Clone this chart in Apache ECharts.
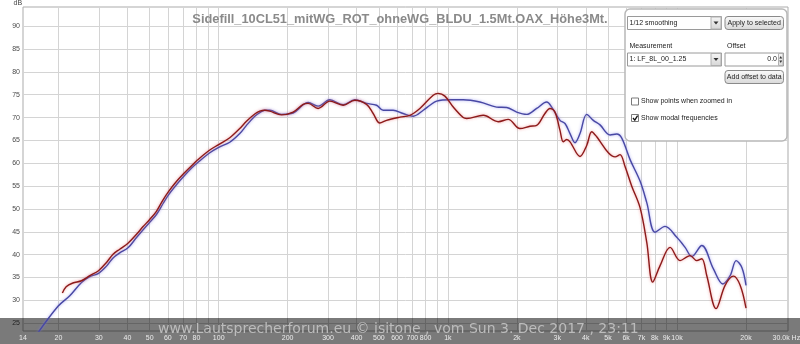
<!DOCTYPE html>
<html><head><meta charset="utf-8">
<script src="https://cdn.jsdelivr.net/npm/echarts@6/dist/echarts.min.js"></script>
<style>html,body{margin:0;padding:0;background:#fff}#c{width:800px;height:344px}</style>
</head><body><div id="c"></div>
<script>
const titleText = 'Sidefill_10CL51_mitWG_ROT_ohneWG_BLDU_1.5Mt.OAX_Höhe3Mt.';
const watermarkText = 'www.Lautsprecherforum.eu © isitone , vom Sun 3. Dec 2017 , 23:11';
const yUnit = 'dB';

const xGridValues = [20,30,40,50,60,70,80,90,100,200,300,400,500,600,700,800,900,1000,2000,3000,4000,5000,6000,7000,8000,9000,10000,20000];
const xLabelValues = [14,20,30,40,50,60,70,80,100,200,300,400,500,600,700,800,1000,2000,3000,4000,5000,6000,7000,8000,9000,10000,20000,30000];
const yTickValues = [25,30,35,40,45,50,55,60,65,70,75,80,85,90];

const redFreq = [20.8,21.6,23.1,25.2,27.4,29.9,32.4,34.6,37.0,40.2,43.7,46.7,50.0,53.5,57.2,60.4,65.4,70.6,76.0,80.8,90.8,100,111.8,123.6,132.2,143.7,151.1,158.9,167.1,188,211.3,233.6,245.6,271.6,305.5,349.3,392.7,441.8,472.2,505,540,617.7,682.8,755,863,907.6,970.8,1056,1167,1208,1427,1659,1835,2064,2282,2441,2653,2790,2934,3086,3189,3301,3413,3773,4036,4245,4463,4614,5016,5365,5641,5933,6346,6898,7379,7837,8435,9328,10313,11404,12198,12827,13488,14812,16212,17626,18858,20000];
const redDb = [31.6,33.0,33.8,34.3,35.4,36.5,38.3,40.1,41.2,42.5,44.4,46.1,47.7,49.5,52.0,53.8,56.0,57.8,59.4,60.7,62.8,64.1,65.6,67.6,69.2,70.8,71.4,71.6,71.4,70.6,71.2,72.9,73.1,72.0,73.6,72.7,73.8,72.9,70.9,68.8,69.4,70.1,70.5,72.0,74.9,75.3,74.7,72.3,70.0,69.8,70.5,69.1,69.6,67.6,68.1,68.3,70.9,72.0,71.2,67.2,64.7,65.2,64.7,61.5,63.9,66.9,65.8,64.8,62.3,61.4,61.9,59.3,55.0,50.3,42.7,34.0,37.6,41.6,38.7,39.8,38.7,39.1,35.4,28.2,33.3,35.3,33.3,28.3];

const blueFreq = [16.0,19.9,22.4,25.2,27.4,29.9,32.4,34.6,37.0,40.2,43.7,46.7,50.0,53.5,57.2,60.4,65.4,70.6,76.0,80.8,90.8,100,111.8,123.6,132.2,143.7,151.1,158.9,167.1,188,211.3,233.6,245.6,271.6,305.5,349.3,392.7,441.8,488.6,522,577,638,706,781,835,893,1021,1167,1380,1633,1806,1997,2208,2441,2700,2839,3086,3245,3413,3588,3773,4036,4312,4614,5103,5457,5740,6240,6898,7379,8022,8870,9975,10847,11600,12827,14416,15847,17055,18117,19180,20000];
const blueDb = [22.4,28.7,31.0,33.9,35.2,35.9,37.5,39.3,40.4,41.5,43.7,45.4,47.1,48.8,51.2,53.1,55.3,57.2,58.9,60.1,62.2,63.5,64.6,66.5,68.3,70.3,71.1,71.6,71.6,70.7,71.0,72.8,73.3,72.5,73.9,72.8,73.9,73.1,72.7,71.6,71.6,70.9,70.3,71.6,72.7,73.6,73.9,73.9,73.4,72.3,72.2,71.2,70.7,72.0,73.4,72.3,69.4,68.7,66.5,64.5,66.5,70.7,69.4,68.4,66.2,66.4,65.5,60.8,56.1,51.4,44.9,46.2,43.8,41.6,39.6,42.0,36.9,33.6,35.4,38.7,37.2,33.3];

const FONT = 'Liberation Sans, Arial, sans-serif';
function fmtFreq(v) {
  if (v >= 29999) return '30.0k Hz';
  if (v >= 1000) return (v / 1000) + 'k';
  return String(v);
}
function grad(a, b) {
  return new echarts.graphic.LinearGradient(0, 0, 0, 1, [{offset: 0, color: a}, {offset: 1, color: b}]);
}
function txt(x, y, s, extra) {
  return Object.assign({type: 'text', x: x, y: y, z: 60,
    style: Object.assign({text: s, fontSize: 7, fontFamily: FONT, fill: '#222', textVerticalAlign: 'middle'}, extra || {})});
}
function box(x, y, w, h, r, fill, stroke) {
  return {type: 'rect', z: 55, shape: {x: x, y: y, width: w, height: h, r: r}, style: {fill: fill, stroke: stroke, lineWidth: 1}};
}
function tri(cx, cy, up) {
  const d = up ? -1 : 1;
  return {type: 'polygon', z: 58, shape: {points: [[cx - 2.5, cy - 1.5 * d], [cx + 2.5, cy - 1.5 * d], [cx, cy + 1.5 * d]]}, style: {fill: '#333'}};
}

const panel = [
  {type: 'rect', z: 50, shape: {x: 625, y: 9, width: 162, height: 132, r: 5}, style: {fill: '#fff', stroke: '#b8b8b8', lineWidth: 1.5}},
  box(627.5, 16.5, 94, 13, 0, '#fff', '#9a9a9a'),
  box(711, 17, 10, 12, 0, grad('#f6f6f6', '#d6d6d6'), '#b0b0b0'),
  tri(716, 23, false),
  txt(629.5, 23, '1/12 smoothing'),
  box(725, 16.5, 58.5, 13, 3, grad('#fbfbfb', '#d8d8d8'), '#8a8a8a'),
  txt(754.2, 23, 'Apply to selected', {textAlign: 'center'}),
  txt(629.5, 46.5, 'Measurement'),
  txt(727, 46.5, 'Offset'),
  box(627.5, 53, 94, 13, 0, '#fff', '#9a9a9a'),
  box(711, 53.5, 10, 12, 0, grad('#f6f6f6', '#d6d6d6'), '#b0b0b0'),
  tri(716, 59.5, false),
  txt(629.5, 59.5, '1: LF_8L_00_1.25'),
  box(725, 53, 58.5, 13, 0, '#fff', '#9a9a9a'),
  txt(777, 59.5, '0.0', {textAlign: 'right'}),
  box(778.5, 53.5, 4.5, 12, 0, grad('#f6f6f6', '#dcdcdc'), '#b0b0b0'),
  {type: 'polygon', z: 58, shape: {points: [[779.3, 58.5], [782.2, 58.5], [780.75, 56]]}, style: {fill: '#333'}},
  {type: 'polygon', z: 58, shape: {points: [[779.3, 60.5], [782.2, 60.5], [780.75, 63]]}, style: {fill: '#333'}},
  box(725, 70.5, 58.5, 13, 3, grad('#fbfbfb', '#d8d8d8'), '#8a8a8a'),
  txt(754.2, 77, 'Add offset to data', {textAlign: 'center'}),
  box(631.5, 98, 7, 7, 0, '#fff', '#7a7a7a'),
  txt(641, 101.5, 'Show points when zoomed in'),
  box(631.5, 114.5, 7, 7, 0, '#fff', '#7a7a7a'),
  {type: 'polyline', z: 58, shape: {points: [[633, 118], [634.8, 120.2], [637.6, 115.6]]}, style: {stroke: '#111', lineWidth: 1.3, fill: null}},
  txt(641, 118, 'Show modal frequencies')
];

const chart = echarts.init(document.getElementById('c'), null, {renderer: 'canvas'});
chart.setOption({
  animation: false,
  backgroundColor: '#fff',
  title: {text: titleText, left: 'center', top: 8, textStyle: {fontSize: 12.8, fontWeight: 'bold', color: '#8a8a8a', fontFamily: FONT}},
  grid: {left: 23, right: 12, top: 7, bottom: 13, show: true, containLabel: false, outerBoundsMode: 'none',
         borderColor: '#ababab', borderWidth: 1, backgroundColor: 'transparent'},
  xAxis: [
    {type: 'log', logBase: 10, min: 14, max: 30500, z: 0, position: 'bottom',
     axisLine: {show: false}, axisTick: {show: false, customValues: xGridValues},
     axisLabel: {show: false}, splitLine: {show: true, lineStyle: {color: '#d4d4d4', width: 1}}, minorTick: {show: false}, minorSplitLine: {show: false}},
    {type: 'log', logBase: 10, min: 14, max: 30500, z: 10, position: 'bottom',
     axisLine: {show: false}, axisTick: {show: false, customValues: xLabelValues}, splitLine: {show: false},
     axisLabel: {customValues: xLabelValues, formatter: fmtFreq, color: '#ececec', fontSize: 7, margin: 4, fontFamily: FONT, hideOverlap: false, showMinLabel: true, showMaxLabel: true}}
  ],
  yAxis: {type: 'value', min: 23.3, max: 94.2, z: 0,
    axisLine: {show: false}, axisTick: {show: false, customValues: yTickValues},
    axisLabel: {customValues: yTickValues, color: '#4a4a4a', fontSize: 7, margin: 3, fontFamily: FONT},
    splitLine: {show: true, lineStyle: {color: '#d4d4d4', width: 1}}},
  series: [
    {type: 'line', name: 'blue', xAxisIndex: 0, data: blueFreq.map((f, i) => [f, blueDb[i]]), showSymbol: false, smooth: 0.35, clip: true, z: 3,
     lineStyle: {color: '#4848a4', width: 1.4, shadowColor: 'rgba(130,130,235,0.7)', shadowBlur: 3}},
    {type: 'line', name: 'red', xAxisIndex: 0, data: redFreq.map((f, i) => [f, redDb[i]]), showSymbol: false, smooth: 0.35, clip: true, z: 4,
     lineStyle: {color: '#8c1a1a', width: 1.4, shadowColor: 'rgba(235,110,110,0.7)', shadowBlur: 3}}
  ],
  graphic: {elements: [
    {type: 'rect', z: 1, shape: {x: 0, y: 318, width: 800, height: 26}, style: {fill: 'rgba(0,0,0,0.52)'}},
    {type: 'text', z: 6, x: 158, y: 329, style: {text: watermarkText, fontSize: 14, fontFamily: 'DejaVu Sans', fontWeight: 'normal', fill: '#bcbcbc', textVerticalAlign: 'middle'}},
    {type: 'text', z: 6, x: 13.5, y: 3.5, style: {text: yUnit, fontSize: 7, fontFamily: FONT, fill: '#444', textVerticalAlign: 'middle'}}
  ].concat(panel)}
});
</script></body></html>
